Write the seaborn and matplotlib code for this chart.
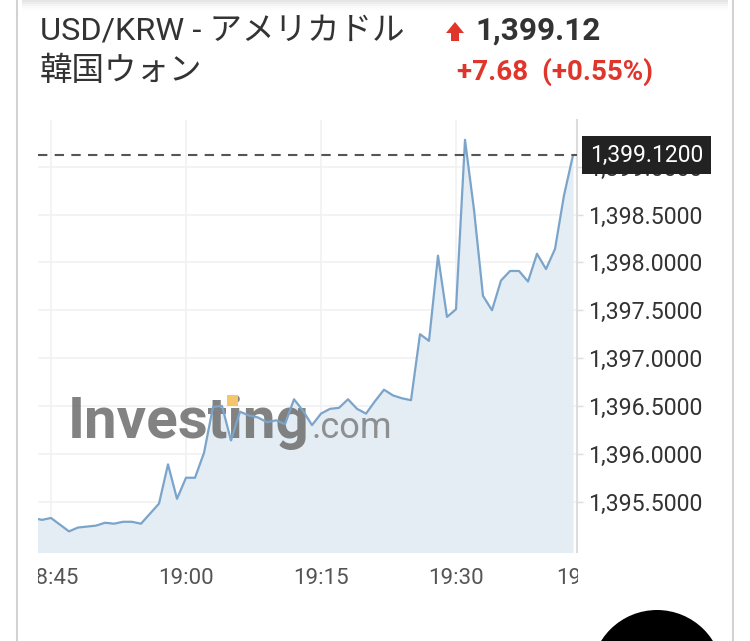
import matplotlib
matplotlib.use("Agg")
import matplotlib.pyplot as plt
import matplotlib.patches as mpatches
import matplotlib.transforms as mtransforms
import numpy as np
import pandas as pd
import seaborn as sns

# ---- data (minutes after 18:00, USD/KRW) ----
minutes = [43, 44, 45, 47, 48, 49, 50, 51, 52, 53, 54, 55, 57, 58, 59, 60, 61, 62,
           63, 64, 65, 66, 67, 68, 69, 70, 71, 72, 73, 74, 75, 76, 77, 78, 79, 80,
           81, 82, 83, 84, 85, 86, 87, 88, 89, 90, 91, 92, 93, 94, 95, 96, 97, 98,
           99, 100, 101, 102, 103]
prices = [1395.33, 1395.31, 1395.33, 1395.19, 1395.23, 1395.24, 1395.25, 1395.28,
          1395.27, 1395.29, 1395.29, 1395.27, 1395.48, 1395.89, 1395.53, 1395.75,
          1395.75, 1396.01, 1396.49, 1396.50, 1396.14, 1396.44, 1396.40, 1396.38,
          1396.33, 1396.35, 1396.31, 1396.57, 1396.45, 1396.30, 1396.42, 1396.47,
          1396.48, 1396.57, 1396.47, 1396.42, 1396.55, 1396.67, 1396.61, 1396.58,
          1396.56, 1397.25, 1397.18, 1398.07, 1397.43, 1397.51, 1399.28, 1398.55,
          1397.65, 1397.50, 1397.81, 1397.91, 1397.91, 1397.80, 1398.09, 1397.93,
          1398.14, 1398.70, 1399.12]
last_price = 1399.12
y_ticks = [1395.5, 1396.0, 1396.5, 1397.0, 1397.5, 1398.0, 1398.5, 1399.0]
x_tick_pos = [45, 60, 75, 90, 105]
x_tick_labels = ["18:45", "19:00", "19:15", "19:30", "19:45"]
title_l1 = "USD/KRW - アメリカドル"
title_l2 = "韓国ウォン"
price_text = "1,399.12"
change_text = "+7.68  (+0.55%)"

df = pd.DataFrame({"minute": minutes, "price": prices})

sns.set_style("white")
plt.rcParams["font.family"] = ["Roboto", "Noto Sans CJK JP", "DejaVu Sans"]

W, H = 750, 641
fig = plt.figure(figsize=(W / 100, H / 100), dpi=100)
fig.patch.set_facecolor("white")

def fx(px):
    return px / W

def fy(py):
    return 1 - py / H

ax_l, ax_r, ax_t, ax_b = 38, 577, 120, 552
ax = fig.add_axes([fx(ax_l), fy(ax_b), fx(ax_r - ax_l), (ax_b - ax_t) / H])

x0 = 45 + (ax_l - 51) / 9.0
x1 = 45 + (ax_r - 51) / 9.0
y_lo = 1398.5 - (ax_b - 214.5) / 95.73
y_hi = 1398.5 + (214.5 - ax_t) / 95.73

ax.fill_between(df["minute"], df["price"], y_lo - 1, color="#e4ecf4", zorder=1, lw=0)
sns.lineplot(data=df, x="minute", y="price", ax=ax, color="#7ba4cb", lw=1.6, zorder=3)

ax.set_xlim(x0, x1)
ax.set_ylim(y_lo, y_hi)
ax.set_xlabel("")
ax.set_ylabel("")

ax.axhline(last_price, color="#555555", lw=1.5, ls=(0, (4.5, 3.5)), zorder=4)

ax.yaxis.tick_right()
ax.set_yticks(y_ticks)
ax.set_yticklabels([f"{v:,.4f}" for v in y_ticks])
ax.set_xticks([p for p in x_tick_pos if p <= x1])
ax.set_xticklabels([])
ax.tick_params(axis="y", length=4.5, width=1, color="#dddddd", pad=3.5,
               labelsize=16.7, labelcolor="#333333")
ax.tick_params(axis="x", length=6, width=1, color="#dddddd")
ax.grid(True, color="#f1f1f1", lw=1.2)
for s in ["top", "left", "bottom"]:
    ax.spines[s].set_visible(False)
ax.spines["right"].set_color("#dcdcdc")
ax.spines["right"].set_linewidth(1.5)

# x labels (clipped to plot width; a label past the right edge is pulled back)
clip_rect = mpatches.Rectangle((fx(ax_l), 0), fx(ax_r + 1 - ax_l), 1,
                               transform=fig.transFigure)
trans_x = mtransforms.blended_transform_factory(ax.transData, ax.transAxes)
for p, lab in zip(x_tick_pos, x_tick_labels):
    tr = trans_x
    if p > x1:
        shift_px = -((51 + (p - 45) * 9) - (ax_r + 6.5))
        tr = trans_x + mtransforms.ScaledTranslation(shift_px / 100, 0, fig.dpi_scale_trans)
    t = ax.text(p, -16 / (ax_b - ax_t), lab, transform=tr, ha="center", va="top",
                fontsize=16, color="#555555")
    t.set_clip_path(clip_rect)
    t.set_clip_on(True)

# price label box
trans_y = mtransforms.blended_transform_factory(ax.transAxes, ax.transData)
ax.text(1.0 + 13 / (ax_r - ax_l), last_price, f"{last_price:,.4f}", transform=trans_y,
        ha="left", va="center", fontsize=16.5, color="white", zorder=10, clip_on=False,
        bbox=dict(boxstyle="square,pad=0.33", fc="#222222", ec="none"))

# watermark (between fill and line)
ax.text(fx(68), fy(438), "Investing", fontsize=42, fontweight="bold",
        color="#747474", alpha=0.9, va="baseline", ha="left", zorder=2,
        transform=fig.transFigure, clip_on=False)
ax.text(fx(312), fy(438), ".com", fontsize=26, color="#858585", alpha=0.9,
        va="baseline", ha="left", zorder=2, transform=fig.transFigure, clip_on=False)
ax.add_artist(mpatches.Rectangle((fx(227), fy(406)), fx(11), 11 / H,
                                 transform=fig.transFigure, fc="#f5c56b", ec="none",
                                 zorder=2.1, clip_on=False))

# header texts
fig.text(fx(40), fy(40), title_l1, fontsize=23.4, color="#333333", va="baseline", ha="left")
fig.text(fx(40), fy(80), title_l2, fontsize=23.4, color="#333333", va="baseline", ha="left")
fig.text(fx(475), fy(40), price_text, fontsize=22.7, fontweight="bold", color="#333333",
         va="baseline", ha="left")
fig.text(fx(457), fy(80), change_text, fontsize=20, fontweight="bold", color="#e0352b",
         va="baseline", ha="left")
arrow_px = [(455, 22), (446, 33), (451, 33), (451, 41), (459, 41), (459, 33), (464, 33)]
fig.add_artist(mpatches.Polygon([(fx(a), fy(b)) for a, b in arrow_px], closed=True,
                                transform=fig.transFigure, fc="#e0352b", ec="none"))

# top shadow of the card
for i, a in enumerate([0.10, 0.07, 0.045, 0.025, 0.012]):
    fig.add_artist(mpatches.Rectangle((fx(22), fy(2 * (i + 1))), fx(706), 2 / H,
                                      transform=fig.transFigure, fc="black",
                                      alpha=a, ec="none"))

# card borders and overlay button
for bx in (17, 733):
    fig.add_artist(plt.Line2D([fx(bx), fx(bx)], [0, 1], transform=fig.transFigure,
                              color="#d2d2d2", lw=1.5))
fig.add_artist(mpatches.Ellipse((fx(657), fy(676)), 132 / W, 132 / H,
                                transform=fig.transFigure, fc="black", ec="none"))

fig.savefig("out.png", dpi=100)
